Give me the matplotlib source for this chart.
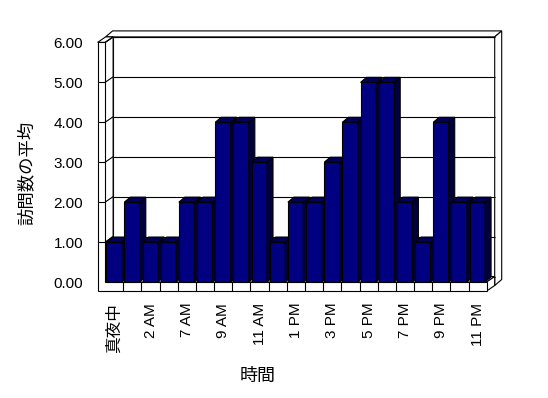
import matplotlib
matplotlib.use('Agg')
import matplotlib.pyplot as plt
from matplotlib.patches import Polygon

plt.rcParams['font.family'] = ['Liberation Sans', 'Noto Sans CJK JP']

# ---- data ----
categories = ['真夜中', '1 AM', '2 AM', '6 AM', '7 AM', '8 AM', '9 AM', '10 AM',
              '11 AM', '正午', '1 PM', '2 PM', '3 PM', '4 PM', '5 PM', '6 PM',
              '7 PM', '8 PM', '9 PM', '10 PM', '11 PM']
values = [1, 2, 1, 1, 2, 2, 4, 4, 3, 1, 2, 2, 3, 4, 5, 5, 2, 1, 4, 2, 2]
y_ticks = [0, 1, 2, 3, 4, 5, 6]
y_tick_labels = ['0.00', '1.00', '2.00', '3.00', '4.00', '5.00', '6.00']
y_label = '訪問数の平均'
x_label = '時間'

# ---- layout (pixels) ----
W, H = 548, 398
fig = plt.figure(figsize=(W / 100, H / 100), dpi=100)
fig.patch.set_facecolor('white')
L, R, B, T = 105.1, 486.7, 282.0, 42.4
ax = fig.add_axes([L / W, 1 - B / H, (R - L) / W, (B - T) / H])
n = len(categories)
ymax = y_ticks[-1]
ax.set_xlim(0, n)
ax.set_ylim(0, ymax)
ax.set_frame_on(False)
ax.patch.set_visible(False)

sx = (R - L) / n
sy = (B - T) / ymax


def P(x, y, ox=0.0, oy=0.0):
    return (x + ox / sx, y + oy / sy)


Dx, Dy = 8.0, 5.5      # depth front->back
Tx, Ty = 7.0, 6.0      # back wall thickness
Wl = 7.5               # left wall thickness
F = 9.0                # floor thickness
lw = 0.8


def poly(pts, fc='white', z=1):
    ax.add_patch(Polygon(pts, closed=True, facecolor=fc, edgecolor='black',
                         linewidth=lw, zorder=z, clip_on=False,
                         joinstyle='miter'))


def line(p, q, z=2):
    ax.plot([p[0], q[0]], [p[1], q[1]], color='black', linewidth=lw,
            zorder=z, clip_on=False, solid_capstyle='butt')


# back wall
poly([P(0, 0, Dx, Dy), P(n, 0, Dx, Dy), P(n, ymax, Dx, Dy), P(0, ymax, Dx, Dy)], z=1)
poly([P(0, ymax, Dx - Wl, Dy), P(0, ymax, Dx - Wl + Tx, Dy + Ty),
      P(n, ymax, Dx + Tx, Dy + Ty), P(n, ymax, Dx, Dy)], z=1)
poly([P(n, ymax, Dx, Dy), P(n, ymax, Dx + Tx, Dy + Ty),
      P(n, 0, Dx + Tx, Dy + Ty - F), P(n, 0, Dx, Dy - F)], z=1)
for v in y_ticks:
    line(P(0, v, Dx, Dy), P(n, v, Dx, Dy), z=2)

# floor top + right end
poly([P(0, 0), P(n, 0), P(n, 0, Dx, Dy), P(0, 0, Dx, Dy)], z=3)
poly([P(n, 0), P(n, 0, Dx, Dy), P(n, 0, Dx, Dy - F), P(n, 0, 0, -F)], z=3)

# left wall inner face
poly([P(0, 0), P(0, ymax), P(0, ymax, Dx, Dy), P(0, 0, Dx, Dy)], z=3)
for v in y_ticks:
    line(P(0, v), P(0, v, Dx, Dy), z=3.5)
# left wall top
poly([P(0, ymax, -Wl, 0), P(0, ymax), P(0, ymax, Dx, Dy), P(0, ymax, Dx - Wl, Dy)], z=3)
# front L face (left wall front + floor front)
poly([P(0, 0, -Wl, -F), P(n, 0, 0, -F), P(n, 0), P(0, 0), P(0, ymax),
      P(0, ymax, -Wl, 0)], z=3)
for v in y_ticks[1:-1]:
    line(P(0, v, -Wl, 0), P(0, v), z=3.5)
for i in range(1, n):
    line(P(i, 0, 0, -F), P(i, 0), z=3.5)

# bars
front_c, side_c, top_c = '#000080', '#00003c', '#000058'
bw, boff = 0.85, 0.06
Bx, By = 6.0, 5.0
for i, v in enumerate(values):
    bars = ax.bar(i + boff, v, width=bw, align='edge', color=front_c,
                  edgecolor='black', linewidth=lw, zorder=10 + i)
    r = bars[0]
    x0, x1, h = r.get_x(), r.get_x() + r.get_width(), r.get_height()
    poly([P(x1, 0), P(x1, 0, Bx, By), P(x1, h, Bx, By), P(x1, h)], fc=side_c, z=10 + i + 0.2)
    poly([P(x0, h), P(x0, h, Bx, By), P(x1, h, Bx, By), P(x1, h)], fc=top_c, z=10 + i + 0.2)

# ticks
ax.set_yticks(y_ticks, y_tick_labels)
ax.set_xticks([i + 0.5 for i in range(0, n, 2)], categories[::2], rotation=90)
ax.tick_params(axis='both', length=0, labelsize=11, colors='black')
ax.tick_params(axis='y', pad=15.8)
ax.tick_params(axis='x', pad=15)
for t in ax.get_xticklabels():
    if t.get_text() == '真夜中':
        t.set_fontsize(12)

fig.text(27 / W, 1 - 173 / H, y_label, rotation=90, ha='center', va='center',
         fontsize=12.5, family=['Noto Sans CJK JP'])
fig.text(258 / W, 1 - 376 / H, x_label, ha='center', va='center',
         fontsize=13, family=['Noto Sans CJK JP'])

fig.savefig('out.png', dpi=100, facecolor='white')
